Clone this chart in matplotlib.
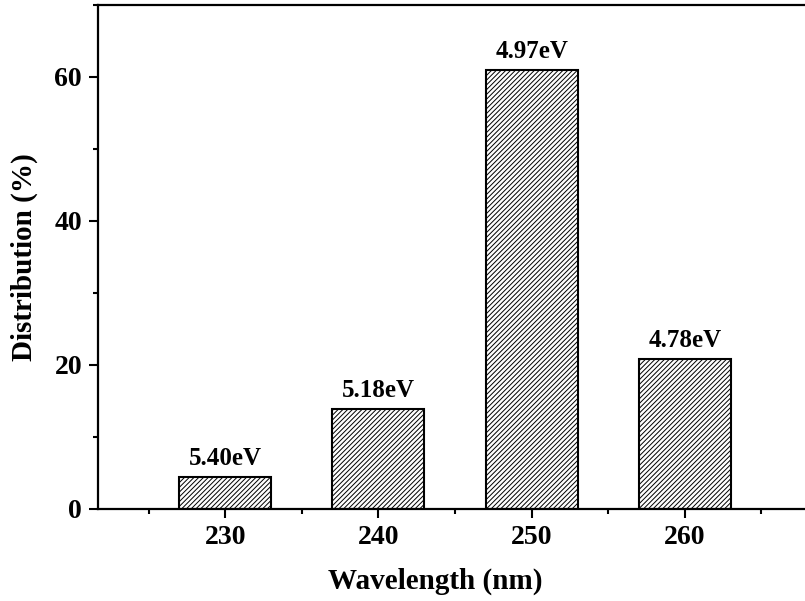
import matplotlib.pyplot as plt
from matplotlib.ticker import MultipleLocator

# Wavelength bins and share of each (%), with the matching photon energy
wavelength = [230, 240, 250, 260]
distribution = [4.5, 13.9, 61.0, 20.9]
energy_labels = ['5.40eV', '5.18eV', '4.97eV', '4.78eV']

plt.rcParams['font.family'] = ['Liberation Serif', 'DejaVu Serif']
plt.rcParams['font.weight'] = 'bold'
plt.rcParams['hatch.linewidth'] = 0.7

fig = plt.figure(figsize=(8.05, 6.01), dpi=100)
ax = fig.add_axes([98 / 805, 92 / 601, 714 / 805, 504 / 601])

bars = ax.bar(wavelength, distribution, width=6, color='white',
              edgecolor='black', linewidth=1.5, hatch='///////')

for rect, lab in zip(bars, energy_labels):
    ax.annotate(lab, (rect.get_x() + rect.get_width() / 2, rect.get_height()),
                xytext=(0, 5), textcoords='offset points',
                ha='center', va='bottom', fontsize=18, fontweight='bold')

ax.set_xlim(221.7, 268.3)
ax.set_ylim(0, 70)
ax.set_xticks(wavelength)
ax.xaxis.set_minor_locator(MultipleLocator(5))
ax.yaxis.set_major_locator(MultipleLocator(20))
ax.yaxis.set_minor_locator(MultipleLocator(10))
ax.tick_params(which='major', direction='out', length=6.5, width=1.5,
               labelsize=20, pad=5, top=False, right=False)
ax.tick_params(which='minor', direction='out', length=3.5, width=1.5,
               top=False, right=False)
for lbl in ax.get_xticklabels() + ax.get_yticklabels():
    lbl.set_fontweight('bold')

for sp in ax.spines.values():
    sp.set_linewidth(1.6)

ax.set_xlabel('Wavelength (nm)', fontsize=21, fontweight='bold')
ax.set_ylabel('Distribution (%)', fontsize=21, fontweight='bold', labelpad=12)
ax.xaxis.set_label_coords(0.472, -0.117)

fig.savefig('out.png', dpi=100)
